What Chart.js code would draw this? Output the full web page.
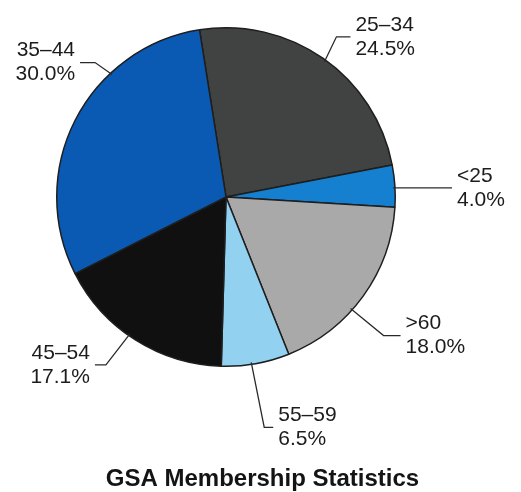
<!DOCTYPE html>
<html>
<head>
<meta charset="utf-8">
<title>GSA Membership Statistics</title>
<script src="https://cdn.jsdelivr.net/npm/chart.js@4/dist/chart.umd.min.js"></script>
<style>
  html, body { margin: 0; padding: 0; background: #ffffff; }
  canvas { display: block; }
</style>
</head>
<body>
<canvas id="pieChart" width="521" height="492"></canvas>
<script>
// age groups in clockwise order, starting just left of 12 o'clock
const ageGroups = ['25–34', '<25', '>60', '55–59', '45–54', '35–44'];
const shares = [24.5, 4.0, 18.0, 6.5, 17.1, 30.0];
const chartTitle = 'GSA Membership Statistics';

const sliceColors = ['#404342', '#1580d0', '#a8a9a8', '#93d1f1', '#101010', '#0a5ab4'];

// where each callout leaves its slice and how the leader bends
// turn: degrees past the slice middle, elbow: offset of the bend, run: horizontal tail
const callouts = [
    { turn: 1, elbow: [12, -25], run: 14 },
    { turn: 0.6, elbow: [0, 0], run: 59 },
    { turn: 6, elbow: [33, 27], run: 17 },
    { turn: 1.4, elbow: [13, 65], run: 9 },
    { turn: 2.7, elbow: [-24, 31], run: -11 },
    { turn: 20, elbow: [-17, -12], run: -15 }
];

const labelFont = '21px "Liberation Sans", Arial, sans-serif';
const titleFont = 'bold 24px "Liberation Sans", Arial, sans-serif';

const calloutPlugin = {
    id: 'callouts',
    afterDatasetsDraw(chart) {
        const ctx = chart.ctx;
        const meta = chart.getDatasetMeta(0);
        ctx.save();
        meta.data.forEach((arc, i) => {
            const p = arc.getProps(['x', 'y', 'startAngle', 'endAngle', 'outerRadius'], true);
            const c = callouts[i];
            const a = (p.startAngle + p.endAngle) / 2 + c.turn * Math.PI / 180;
            const r = p.outerRadius - 2;
            const ax = p.x + r * Math.cos(a);
            const ay = p.y + r * Math.sin(a);
            const ex = ax + c.elbow[0];
            const ey = ay + c.elbow[1];
            const tx = ex + c.run;

            ctx.strokeStyle = '#2a2a2a';
            ctx.lineWidth = 1.3;
            ctx.beginPath();
            ctx.moveTo(ax, ay);
            ctx.lineTo(ex, ey);
            ctx.lineTo(tx, ey);
            ctx.stroke();

            const right = c.run >= 0;
            ctx.fillStyle = '#1c1c1c';
            ctx.font = labelFont;
            ctx.textAlign = right ? 'left' : 'right';
            ctx.textBaseline = 'middle';
            const x = tx + (right ? 5 : -5);
            ctx.fillText(ageGroups[i], x, ey - 12);
            ctx.fillText(shares[i].toFixed(1) + '%', x, ey + 12);
        });

        ctx.fillStyle = '#141414';
        ctx.font = titleFont;
        ctx.textAlign = 'center';
        ctx.textBaseline = 'middle';
        ctx.fillText(chartTitle, chart.width / 2 + 2, 479);
        ctx.restore();
    }
};

new Chart(document.getElementById('pieChart'), {
    type: 'pie',
    data: {
        labels: ageGroups,
        datasets: [{
            data: shares,
            backgroundColor: sliceColors,
            borderColor: '#1e1e1e',
            borderWidth: 1.5
        }]
    },
    options: {
        responsive: false,
        animation: false,
        rotation: -9,
        layout: {
            padding: { top: 27, left: 56, right: 125, bottom: 125 }
        },
        plugins: {
            legend: { display: false },
            tooltip: { enabled: false }
        }
    },
    plugins: [calloutPlugin]
});
</script>
</body>
</html>
